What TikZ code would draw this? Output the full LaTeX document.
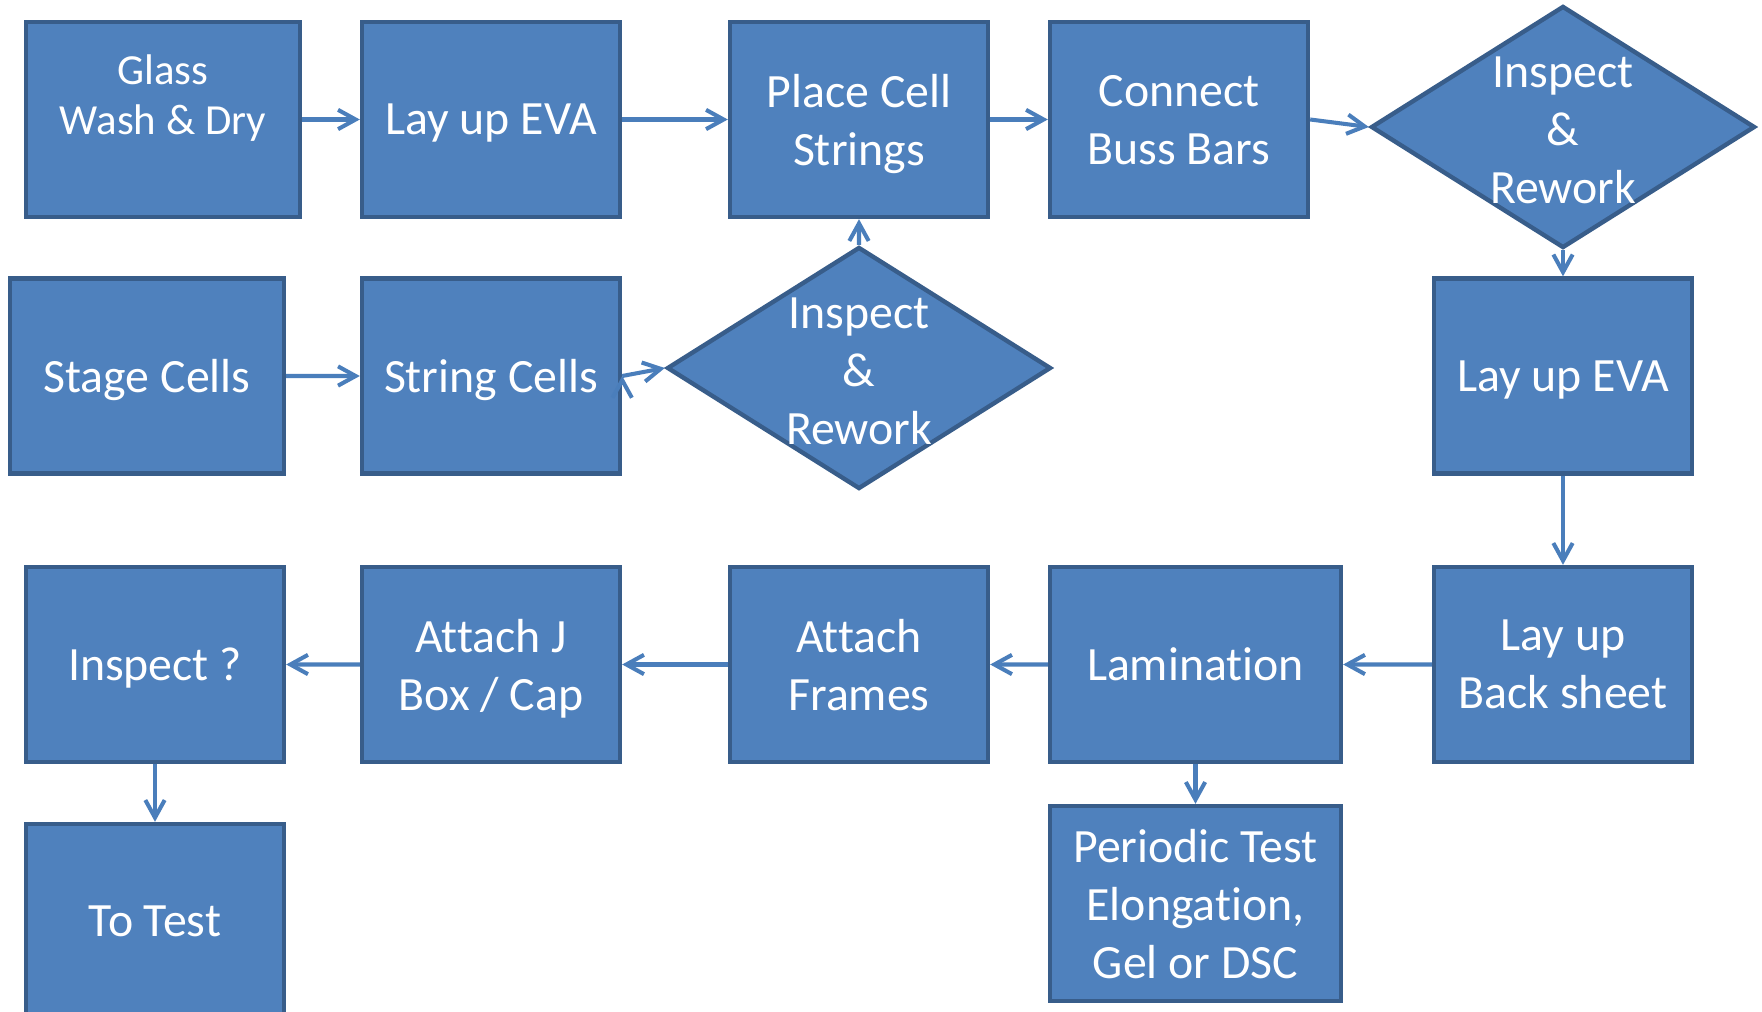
\documentclass[tikz,border=0pt]{standalone}
\usepackage{fontspec}
\setmainfont{Carlito}[Ligatures=NoCommon]
\usetikzlibrary{shapes.geometric,arrows.meta,positioning}
\definecolor{boxblue}{HTML}{4F81BD}
\definecolor{edgeblue}{HTML}{385D8A}
\definecolor{flowblue}{HTML}{4A7EBB}
\newcommand{\boxfont}{\fontsize{27.2}{33}\selectfont}

\begin{document}
\begin{tikzpicture}[on grid,
    proc/.style={rectangle, draw=edgeblue, fill=boxblue, line width=2.5pt,
      minimum width=5.16cm, minimum height=3.9cm, inner sep=0pt,
      text=white, align=center, text depth=0pt, font=\boxfont},
    check/.style={diamond, draw=edgeblue, fill=boxblue, line width=2.5pt,
      minimum width=7.68cm, minimum height=4.84cm, inner sep=0pt},
    checktext/.style={text=white, align=center, yshift=-2pt, font=\boxfont},
    flow/.style={draw=flowblue, line width=2.3pt,
      -{Straight Barb[length=10pt,width=11pt]}}]
  \useasboundingbox[fill=white] (0,0) rectangle (35.24,-20.24);
  % top row
  \node[proc, minimum width=5.48cm, font=\fontsize{24.4}{28.2}\selectfont]
    (glass) at (3.26,-2.39) {Glass\\Wash \& Dry\\\mbox{}};
  \node[proc] (eva_1) [right=6.56cm of glass] {Lay up EVA};
  \node[proc] (place) [right=7.36cm of eva_1] {Place Cell\\Strings};
  \node[proc] (buss) [right=6.4cm of place] {Connect\\Buss Bars};
  \node[check, label={[checktext]center:{Inspect\\\&\\Rework}}]
    (insp_1) at (31.26,-2.54) {};
  % second row
  \node[proc, minimum width=5.48cm] (stage) at (2.94,-7.52) {Stage Cells};
  \node[proc] (string) [below=5.13cm of eva_1] {String Cells};
  \node[check, label={[checktext]center:{Inspect\\\&\\Rework}}]
    (insp_2) at (17.18,-7.36) {};
  \node[proc] (eva_2) at (31.26,-7.52) {Lay up EVA};
  % third row
  \node[proc] (back) [below=5.77cm of eva_2] {Lay up\\Back sheet};
  \node[proc, minimum width=5.82cm] (lamin) at (23.91,-13.29) {Lamination};
  \node[proc] (frames) [below=10.9cm of place] {Attach\\Frames};
  \node[proc] (jbox) [below=10.9cm of eva_1] {Attach J\\Box / Cap};
  \node[proc] (inspq) at (3.10,-13.29) {Inspect ?};
  % bottom row
  \node[proc] (totest) [below=5.14cm of inspq] {To Test};
  \node[proc, minimum width=5.82cm] (periodic) [below=4.78cm of lamin]
    {Periodic Test\\Elongation,\\Gel or DSC};

  \path[flow]
    (glass) edge (eva_1)
    (eva_1) edge (place)
    (place) edge (buss)
    (buss.east) edge (insp_1.west)
    (insp_1) edge (eva_2)
    (eva_2) edge (back)
    (stage) edge (string)
    (string.east) edge (insp_2.west)
    (insp_2) edge (place)
    (back) edge (lamin)
    (lamin) edge (frames)
            edge (periodic)
    (frames) edge (jbox)
    (jbox) edge (inspq)
    (inspq) edge (totest);
\end{tikzpicture}
\end{document}
